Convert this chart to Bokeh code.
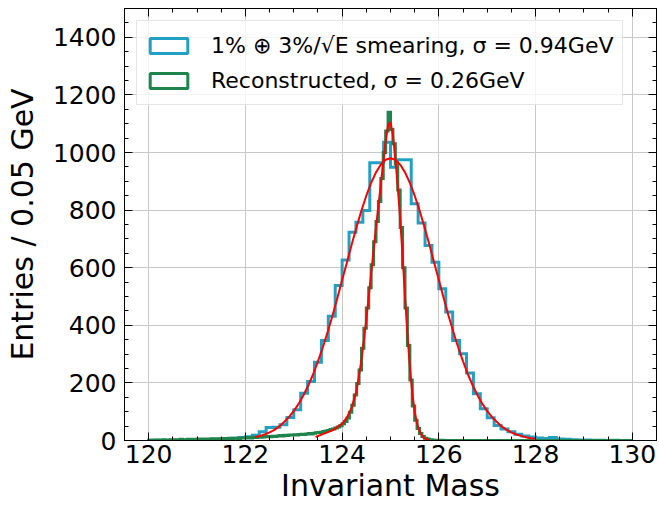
import numpy as np
from bokeh.plotting import figure
from bokeh.models import (LinearAxis, Legend, LegendItem, Range1d, FixedTicker,
                          ColumnDataSource, CustomJSTickFormatter)
from bokeh.embed import file_html
from bokeh.resources import INLINE

# ---------------- data ----------------
hist_lo, hist_hi = 120.0, 130.0

# smeared histogram, 70 bins of 1/7 GeV between 120 and 130
blue_counts = [0, 1, 0, 1, 1, 2, 1, 3, 3, 4,
               4, 6, 8, 10, 13, 18, 30, 45, 46, 55,
               80, 107, 164, 205, 272, 347, 431, 538, 627, 723,
               758, 799, 964, 964, 1036, 949, 975, 975, 822, 755,
               677, 619, 527, 446, 347, 301, 234, 162, 110, 79,
               52, 40, 30, 22, 16, 12, 9, 7, 10, 5,
               4, 3, 2, 2, 1, 1, 0, 1, 0, 0]

# reconstructed histogram, 200 bins of 0.05 GeV between 120 and 130
green_counts = ([1, 2, 1, 2, 1, 2, 3, 2, 2, 3, 3, 2, 3, 4, 3, 3, 4, 3, 4, 4]
                + [4, 5, 4, 5, 5, 4, 6, 5, 6, 6, 7, 6, 7, 8, 7, 8, 8, 7, 9, 9]
                + [9, 10, 9, 11, 10, 12, 11, 12, 13, 14, 13, 15, 14, 16, 17, 16, 18, 17, 19, 19]
                + [20, 19, 21, 22, 21, 23, 24, 23, 25, 27]
                + [28, 29, 31, 33, 35, 38, 40, 43, 47, 51]
                + [58, 66, 78, 98, 122, 158, 198, 245, 320, 390,
                   460, 530, 610, 690, 760, 830, 910, 1000, 1075, 1140]
                + [1080, 1030, 960, 870, 740, 600, 460, 330, 210, 120,
                   70, 42, 24, 14, 8, 5, 3, 2, 1, 1]
                + [0, 1, 0, 0, 0, 0, 0, 0, 0, 0, 0, 0, 0, 0, 0, 0, 0, 0, 0, 0]
                + [0] * 60)

# fitted curves
blue_fit_x = [122.2, 122.3, 122.4, 122.5, 122.6, 122.7, 122.8, 122.9, 123.0, 123.1,
              123.2, 123.3, 123.4, 123.5, 123.6, 123.7, 123.8, 123.9, 124.0, 124.1,
              124.2, 124.3, 124.4, 124.5, 124.6, 124.7, 124.8, 124.9, 125.0, 125.1,
              125.2, 125.3, 125.4, 125.5, 125.6, 125.7, 125.8, 125.9, 126.0, 126.1,
              126.2, 126.3, 126.4, 126.5, 126.6, 126.7, 126.8, 126.9, 127.0, 127.1,
              127.2, 127.3, 127.4, 127.5, 127.6, 127.7, 127.8, 127.9, 128.0]
blue_fit_y = [11, 16, 21, 28, 37, 49, 64, 81, 102, 127,
              157, 191, 230, 275, 323, 377, 433, 494, 557, 619,
              682, 742, 799, 850, 895, 931, 958, 975, 980, 975,
              958, 931, 895, 850, 799, 742, 682, 619, 557, 494,
              433, 377, 323, 275, 230, 191, 157, 127, 102, 81,
              64, 49, 37, 28, 21, 16, 11, 8, 6]

green_fit_x = [123.45, 123.6, 123.8, 124.0, 124.1, 124.2, 124.3, 124.4, 124.5, 124.6,
               124.7, 124.8, 124.9, 124.95, 125.0, 125.05, 125.1, 125.15, 125.2, 125.25,
               125.3, 125.35, 125.4, 125.45, 125.5, 125.55, 125.6, 125.65, 125.7, 125.75, 125.8]
green_fit_y = [12, 22, 35, 58, 80, 115, 175, 280, 420, 580,
               740, 890, 1040, 1095, 1105, 1060, 980, 880, 770, 640,
               500, 370, 255, 165, 100, 58, 32, 17, 8, 4, 2]

x_ticks = [120, 122, 124, 126, 128, 130]
y_ticks = [0, 200, 400, 600, 800, 1000, 1200, 1400]
x_minor = [120 + 0.5 * i for i in range(21)]
y_minor = [50 * i for i in range(31)]

blue_label = "1% \u2295 3%/\u221aE smearing, \u03c3 = 0.94GeV"
green_label = "Reconstructed, \u03c3 = 0.26GeV"

BLUE = "#22a0c4"
GREEN = "#1e844c"
FONT = "DejaVu Sans"


def outline(lo, hi, counts):
    n = len(counts)
    edges = np.linspace(lo, hi, n + 1)
    xs, ys = [edges[0]], [0]
    for i, c in enumerate(counts):
        xs += [edges[i], edges[i + 1]]
        ys += [c, c]
    xs.append(edges[-1])
    ys.append(0)
    return xs, ys


# ---------------- figure ----------------
p = figure(width=659, height=505, x_range=Range1d(119.5, 130.5), y_range=Range1d(0, 1500),
           output_backend="svg", toolbar_location=None,
           min_border_left=124, min_border_right=3, min_border_top=8, min_border_bottom=65,
           background_fill_color="white", border_fill_color="white")
p.outline_line_color = "black"
p.outline_line_width = 1

bx, by = outline(hist_lo, hist_hi, blue_counts)
gx, gy = outline(hist_lo, hist_hi, green_counts)
p.line(bx, by, line_color=BLUE, line_width=3, line_join="miter")
p.line(gx, gy, line_color=GREEN, line_width=3, line_join="miter")
p.line(blue_fit_x, blue_fit_y, line_color="red", line_width=2)
p.line(green_fit_x, green_fit_y, line_color="red", line_width=2)

# legend proxies (not drawn: NaN coordinates)
nan = dict(left=[np.nan], right=[np.nan], top=[np.nan], bottom=[np.nan])
rb = p.quad(source=ColumnDataSource(nan), left="left", right="right", top="top", bottom="bottom",
            fill_color=None, line_color=BLUE, line_width=3)
rg = p.quad(source=ColumnDataSource(dict(nan)), left="left", right="right", top="top",
            bottom="bottom", fill_color=None, line_color=GREEN, line_width=3)

# axes
xt = FixedTicker(ticks=x_ticks, minor_ticks=x_minor)
yt = FixedTicker(ticks=y_ticks, minor_ticks=y_minor)
bottom_ax = p.below[0]
left_ax = p.left[0]
bottom_ax.ticker = xt
left_ax.ticker = yt
bottom_ax.axis_label = "Invariant Mass"
left_ax.axis_label = "Entries / 0.05 GeV"

top_ax = LinearAxis(ticker=xt, formatter=CustomJSTickFormatter(code="return ''"))
right_ax = LinearAxis(ticker=yt, formatter=CustomJSTickFormatter(code="return ''"))
p.add_layout(top_ax, "above")
p.add_layout(right_ax, "right")

for ax in [bottom_ax, left_ax, top_ax, right_ax]:
    ax.major_tick_in = 8
    ax.major_tick_out = 0
    ax.minor_tick_in = 4
    ax.minor_tick_out = 0
    ax.axis_line_color = "black"
    ax.major_tick_line_color = "black"
    ax.minor_tick_line_color = "black"
    ax.major_label_text_font = FONT
    ax.major_label_text_font_size = "25px"
    ax.major_label_text_color = "black"
    ax.axis_label_text_font = FONT
    ax.axis_label_text_font_size = "30px"
    ax.axis_label_text_font_style = "normal"
    ax.axis_label_text_color = "black"

for ax in [top_ax, right_ax]:
    ax.major_label_standoff = 0

bottom_ax.major_label_standoff = 4
bottom_ax.axis_label_standoff = 2
bottom_ax.axis_label_text_line_height = 0.5
left_ax.major_label_standoff = 8
left_ax.axis_label_standoff = 10

p.xgrid.ticker = xt
p.ygrid.ticker = yt
p.grid.grid_line_color = "#c8c8c8"
p.grid.grid_line_width = 1

legend = Legend(items=[LegendItem(label=blue_label, renderers=[rb]),
                       LegendItem(label=green_label, renderers=[rg])],
                location="top_left", margin=12, padding=8, spacing=3,
                glyph_width=47, glyph_height=19, label_standoff=19, label_height=32,
                label_text_font=FONT, label_text_font_size="22px", label_text_color="black",
                background_fill_color="white", background_fill_alpha=0.8,
                border_line_color="#cccccc", border_line_width=1)
p.add_layout(legend)

open("out.html", "w").write(file_html(p, INLINE))
